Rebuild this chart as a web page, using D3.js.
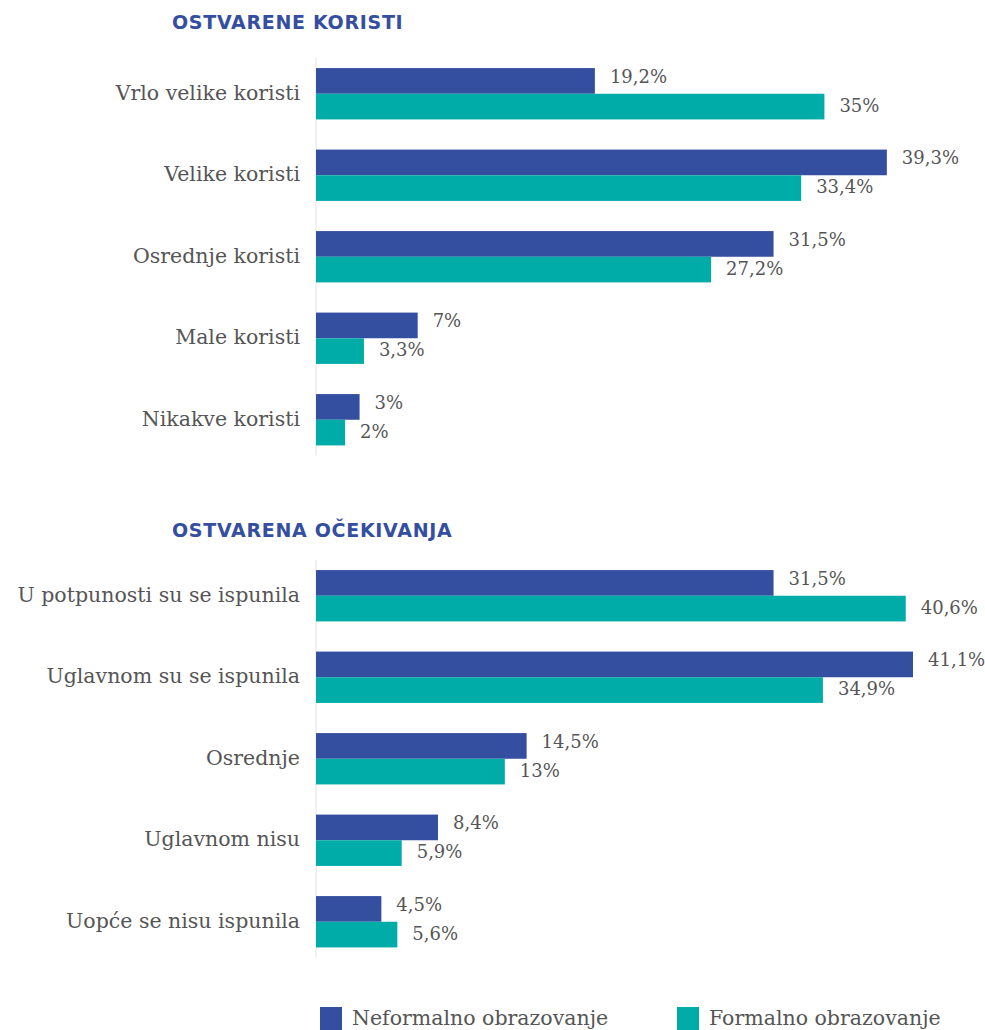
<!DOCTYPE html>
<html><head><meta charset="utf-8">
<script src="https://cdn.jsdelivr.net/npm/d3@7"></script>
<style>
html,body{margin:0;padding:0;background:#fff;}
svg{display:block;}
</style></head>
<body>
<svg id="chart" width="985" height="1030"></svg>
<script>
const title1 = "OSTVARENE KORISTI";
const categories1 = ["Vrlo velike koristi","Velike koristi","Osrednje koristi","Male koristi","Nikakve koristi"];
const neformalno1 = [19.2, 39.3, 31.5, 7, 3];
const formalno1 = [35, 33.4, 27.2, 3.3, 2];

const title2 = "OSTVARENA OČEKIVANJA";
const categories2 = ["U potpunosti su se ispunila","Uglavnom su se ispunila","Osrednje","Uglavnom nisu","Uopće se nisu ispunila"];
const neformalno2 = [31.5, 41.1, 14.5, 8.4, 4.5];
const formalno2 = [40.6, 34.9, 13, 5.9, 5.6];

const seriesNames = ["Neformalno obrazovanje","Formalno obrazovanje"];
const colors = ["#344EA0","#00ACA8"];

const svg = d3.select("#chart");
const x = d3.scaleLinear().domain([0, 41.1]).range([316, 913]);
const fmt = v => String(v).replace(".", ",") + "%";
const labelFont = "'DejaVu Serif', serif";

function panel(title, cats, a, b, top, titleY) {
  svg.append("text").attr("x", 172).attr("y", titleY)
    .attr("fill", "#344EA0").attr("font-family", "'DejaVu Sans', sans-serif")
    .attr("font-weight", "900").attr("font-size", 19).attr("letter-spacing", 0.7)
    .text(title);
  const y = d3.scaleBand().domain(cats).range([top, top + 5 * 81.5]).paddingInner(0.37).paddingOuter(0.185);
  const sub = d3.scaleBand().domain([0,1]).range([0, y.bandwidth()]);
  const g = svg.append("g");
  g.append("line").attr("x1", x(0)).attr("x2", x(0))
    .attr("y1", top + 5).attr("y2", top + 5*81.5 - 5).attr("stroke", "#e4e4e4").attr("stroke-width", 1);
  cats.forEach((c, i) => {
    const vals = [a[i], b[i]];
    const y0 = y(c);
    vals.forEach((v, k) => {
      g.append("rect").attr("x", x(0)).attr("y", y0 + sub(k))
        .attr("width", x(v) - x(0)).attr("height", sub.bandwidth()).attr("fill", colors[k]);
      g.append("text").attr("x", x(v) + 15).attr("y", y0 + sub(k) + sub.bandwidth()/2 + (k===0 ? 2 : 5))
        .attr("font-family", labelFont).attr("font-size", 18).attr("fill", "#555")
        .text(fmt(v));
    });
    g.append("text").attr("x", 300).attr("y", y0 + y.bandwidth()/2 + 6)
      .attr("text-anchor", "end").attr("font-family", labelFont).attr("font-size", 20.5).attr("fill", "#555")
      .text(c);
  });
}

panel(title1, categories1, neformalno1, formalno1, 53, 29);
panel(title2, categories2, neformalno2, formalno2, 555, 537);

// legend
const leg = svg.append("g");
const legX = [320, 677];
seriesNames.forEach((n, k) => {
  leg.append("rect").attr("x", legX[k]).attr("y", 1007).attr("width", 22).attr("height", 23).attr("fill", colors[k]);
  leg.append("text").attr("x", legX[k] + 32).attr("y", 1025)
    .attr("font-family", labelFont).attr("font-size", 20.5).attr("fill", "#555").text(n);
});
</script>
</body></html>
